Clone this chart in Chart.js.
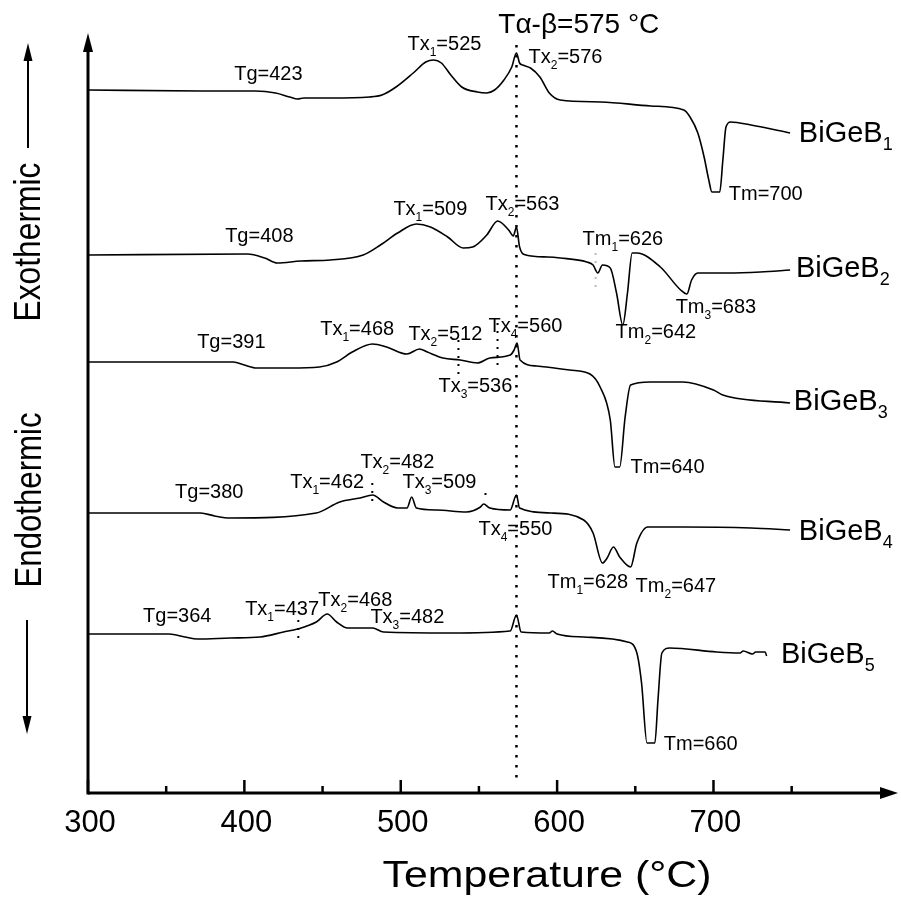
<!DOCTYPE html>
<html>
<head>
<meta charset="utf-8">
<title>DTA BiGeB</title>
<script src="https://cdn.jsdelivr.net/npm/chart.js@4.4.1/dist/chart.umd.min.js"></script>
<style>
  html, body { margin: 0; padding: 0; background: #fff; }
  canvas { display: block; }
</style>
</head>
<body>
<canvas id="dta" width="901" height="898"></canvas>
<script>
// DTA traces, temperature in °C and signal in a.u. (curves are stacked)
const b1T = [300, 372, 407, 420, 429, 434, 438, 455, 480, 488, 497, 508, 516, 521, 526, 532, 539, 549, 555, 560, 566, 571, 574, 576, 578, 583, 589, 595, 602, 628, 660, 681, 685, 690, 694, 697, 699, 704, 706, 708, 711, 724, 749];
const b1S = [70.3, 70.2, 70.2, 70.0, 69.6, 69.4, 69.5, 69.5, 69.6, 69.8, 70.6, 72.0, 73.1, 73.3, 73.0, 71.8, 70.6, 70.1, 70.0, 70.3, 71.3, 72.6, 74.0, 73.0, 72.8, 72.5, 71.6, 70.0, 69.3, 69.1, 68.7, 68.3, 67.6, 66.0, 63.6, 61.3, 60.1, 60.1, 63.3, 66.6, 67.1, 66.8, 66.0];

const b2T = [300, 402, 413, 421, 436, 455, 476, 487, 498, 510, 519, 530, 540, 546, 555, 562, 569, 572, 574, 576, 580, 594, 602, 619, 623, 626, 629, 634, 638, 642, 645, 648, 651, 666, 679, 683, 686, 690, 709, 730, 749];
const b2S = [53.8, 53.9, 53.5, 53.0, 53.2, 53.3, 53.8, 54.8, 56.0, 56.9, 56.6, 55.6, 54.5, 54.6, 55.8, 57.2, 56.3, 55.7, 56.6, 54.6, 53.8, 53.6, 53.5, 53.1, 52.8, 52.0, 52.8, 52.5, 50.0, 46.8, 50.0, 54.0, 54.0, 52.6, 50.3, 49.9, 51.3, 52.0, 52.0, 52.1, 52.3];

const b3T = [300, 393, 400, 408, 429, 448, 459, 469, 482, 491, 504, 512, 517, 527, 538, 549, 557, 570, 572.5, 574.4, 576.3, 587, 608, 621, 627.5, 634, 637, 640, 643.5, 647, 659.5, 680.5, 700, 706, 749];
const b3S = [43.1, 43.1, 42.8, 42.5, 42.5, 42.6, 43.1, 44.1, 44.9, 44.6, 43.9, 44.4, 44.1, 43.5, 43.3, 43.0, 43.5, 43.8, 44.3, 45.0, 43.3, 42.7, 42.3, 41.9, 40.6, 37.3, 32.6, 32.6, 37.6, 40.8, 41.1, 41.1, 40.3, 39.8, 39.0];

const b4T = [300, 372, 381, 391, 446, 461, 474, 482, 489, 498, 504, 507, 510, 523, 542, 551, 553, 557, 570, 574, 576, 596, 617, 623, 629, 632, 636, 640, 647, 651, 658, 681, 724, 749];
const b4S = [28.0, 28.0, 27.7, 27.5, 28.0, 29.1, 29.5, 29.8, 29.1, 28.5, 28.5, 29.6, 28.5, 28.3, 28.1, 28.6, 28.9, 28.5, 28.3, 29.8, 28.5, 28.0, 27.3, 26.0, 23.0, 23.5, 24.6, 23.6, 22.6, 25.0, 26.6, 26.6, 26.5, 26.3];

const b5T = [300, 352, 362, 370, 391, 410, 425, 434, 446, 453, 459, 466, 482, 489, 532, 570, 574, 577, 595, 597, 600, 617, 645, 651, 654, 657.5, 662.5, 664.5, 667, 672, 702, 717, 719, 725, 727, 733, 734];
const b5S = [15.9, 15.9, 15.6, 15.4, 15.5, 15.6, 16.1, 16.4, 17.1, 17.9, 17.1, 16.5, 16.5, 16.1, 16.0, 16.2, 17.8, 16.1, 16.0, 16.2, 15.9, 15.6, 15.1, 14.0, 11.0, 5.0, 5.0, 9.3, 14.0, 14.5, 14.1, 14.0, 14.2, 13.9, 14.1, 14.1, 13.7];

// alpha-beta quartz transition line
const tAlphaBeta = 574;
// short dotted markers: [T, from, to, colour]
const markers = [
    [624.6, 54.0, 50.3, '#bbb'],
    [536.9, 45.3, 41.5, '#000'],
    [561.9, 47.0, 42.5, '#000'],
    [481.8, 31.0, 28.8, '#000'],
    [554.2, 30.0, 29.3, '#000'],
    [434.5, 17.3, 15.1, '#000']
];

const xTicks = [300, 350, 400, 450, 500, 550, 600, 650, 700, 750];
const xLabels = [300, 400, 500, 600, 700];

// annotations: [text, subscript, rest, T, signal, size]
const notes = [
    ['Tα-β=575 °C', '', '', 562.4, 76.0, 28],
    ['Tg', '', '=423', 393.5, 71.3, 20],
    ['Tx', '1', '=525', 504.3, 74.3, 20],
    ['Tx', '2', '=576', 581.7, 73.0, 20],
    ['Tm', '', '=700', 709.8, 59.3, 20],
    ['BiGeB', '1', '', 754.6, 65.1, 29],
    ['Tg', '', '=408', 387.7, 55.1, 20],
    ['Tx', '1', '=509', 495.3, 57.8, 20],
    ['Tx', '2', '=563', 554.2, 58.3, 20],
    ['Tm', '1', '=626', 616.3, 54.8, 20],
    ['Tm', '2', '=642', 637.4, 45.5, 20],
    ['Tm', '3', '=683', 675.8, 48.0, 20],
    ['BiGeB', '2', '', 752.7, 51.6, 29],
    ['Tg', '', '=391', 369.8, 44.5, 20],
    ['Tx', '1', '=468', 448.5, 45.8, 20],
    ['Tx', '2', '=512', 504.9, 45.3, 20],
    ['Tx', '4', '=560', 556.1, 46.1, 20],
    ['Tx', '3', '=536', 524.1, 40.1, 20],
    ['Tm', '', '=640', 647.0, 32.0, 20],
    ['BiGeB', '3', '', 751.4, 38.3, 29],
    ['Tg', '', '=380', 355.7, 29.5, 20],
    ['Tx', '1', '=462', 429.3, 30.5, 20],
    ['Tx', '2', '=482', 474.2, 32.5, 20],
    ['Tx', '3', '=509', 501.1, 30.5, 20],
    ['Tx', '4', '=550', 549.7, 25.8, 20],
    ['Tm', '1', '=628', 593.9, 20.5, 20],
    ['Tm', '2', '=647', 650.2, 20.1, 20],
    ['BiGeB', '4', '', 754.6, 25.3, 29],
    ['Tg', '', '=364', 335.2, 17.1, 20],
    ['Tx', '1', '=437', 400.5, 17.8, 20],
    ['Tx', '2', '=468', 447.3, 18.7, 20],
    ['Tx', '3', '=482', 480.6, 17.0, 20],
    ['Tm', '', '=660', 668.2, 4.3, 20],
    ['BiGeB', '5', '', 743.1, 13.0, 29]
];

const FONT = '"Liberation Sans", Arial, Helvetica, sans-serif';

function pairs(ts, ss) {
    return ts.map((t, i) => ({ x: t, y: ss[i] }));
}

function curve(ts, ss) {
    return {
        data: pairs(ts, ss),
        borderColor: '#000',
        borderWidth: 1.6,
        pointRadius: 0,
        cubicInterpolationMode: 'monotone',
        fill: false
    };
}

let datasets = [
    curve(b1T, b1S), curve(b2T, b2S), curve(b3T, b3S), curve(b4T, b4S), curve(b5T, b5S),
    {
        data: [{ x: tAlphaBeta, y: 74.8 }, { x: tAlphaBeta, y: 0.8 }],
        borderColor: '#000', borderWidth: 2.5, borderDash: [2.5, 7.5], pointRadius: 0
    }
];
markers.forEach(m => {
    datasets.push({
        data: [{ x: m[0], y: m[1] }, { x: m[0], y: m[2] }],
        borderColor: m[3], borderWidth: 2, borderDash: [2, 6], pointRadius: 0
    });
});

function drawLabel(ctx, x, y, main, sub, rest, size) {
    ctx.font = size + 'px ' + FONT;
    ctx.fillText(main, x, y);
    let cx = x + ctx.measureText(main).width;
    if (sub) {
        ctx.font = Math.round(size * 0.62) + 'px ' + FONT;
        ctx.fillText(sub, cx, y + size * 0.28);
        cx += ctx.measureText(sub).width;
        ctx.font = size + 'px ' + FONT;
    }
    if (rest) ctx.fillText(rest, cx, y);
}

// text squeezed/stretched to a given length
function fitText(ctx, text, x, y, size, width, angle) {
    ctx.save();
    ctx.translate(x, y);
    ctx.rotate(angle || 0);
    ctx.font = size + 'px ' + FONT;
    const w = ctx.measureText(text).width;
    ctx.scale(width / w, 1);
    ctx.textAlign = 'center';
    ctx.textBaseline = 'alphabetic';
    ctx.fillText(text, 0, 0);
    ctx.restore();
}

function arrowHead(ctx, tipX, tipY, dx, dy, len, half) {
    ctx.beginPath();
    ctx.moveTo(tipX, tipY);
    ctx.lineTo(tipX - dx * len - dy * half, tipY - dy * len + dx * half);
    ctx.lineTo(tipX - dx * len + dy * half, tipY - dy * len - dx * half);
    ctx.closePath();
    ctx.fill();
}

const decorations = {
    id: 'decorations',
    afterDatasetsDraw(chart) {
        const { ctx, chartArea: a, scales: { x, y } } = chart;
        ctx.save();
        ctx.fillStyle = '#000';
        ctx.strokeStyle = '#000';

        // x axis with arrow
        ctx.lineWidth = 3;
        ctx.beginPath();
        ctx.moveTo(a.left, a.bottom);
        ctx.lineTo(a.right - 14, a.bottom);
        ctx.stroke();
        arrowHead(ctx, a.right, a.bottom, 1, 0, 18, 6);

        // y axis with arrow
        ctx.beginPath();
        ctx.moveTo(a.left, a.bottom + 1.5);
        ctx.lineTo(a.left, a.top + 14);
        ctx.stroke();
        arrowHead(ctx, a.left, a.top, 0, -1, 19, 5);

        // ticks pointing inwards
        ctx.lineWidth = 2.5;
        xTicks.forEach(t => {
            const px = x.getPixelForValue(t);
            const len = t % 100 === 0 ? 13 : 7;
            ctx.beginPath();
            ctx.moveTo(px, a.bottom);
            ctx.lineTo(px, a.bottom - len);
            ctx.stroke();
        });

        ctx.textAlign = 'center';
        ctx.textBaseline = 'alphabetic';
        ctx.font = '31px ' + FONT;
        xLabels.forEach(t => {
            ctx.fillText(String(t), x.getPixelForValue(t) + 2, a.bottom + 39);
        });
        fitText(ctx, 'Temperature (°C)', 547, 887, 36, 329, 0);

        // exo / endo
        fitText(ctx, 'Exothermic', 40, 242, 37, 159, -Math.PI / 2);
        fitText(ctx, 'Endothermic', 41, 500, 37, 175, -Math.PI / 2);
        ctx.lineWidth = 2;
        ctx.beginPath();
        ctx.moveTo(28, 148);
        ctx.lineTo(28, 58);
        ctx.stroke();
        arrowHead(ctx, 28, 43, 0, -1, 18, 4.5);
        ctx.beginPath();
        ctx.moveTo(27, 620);
        ctx.lineTo(27, 718);
        ctx.stroke();
        arrowHead(ctx, 27, 734, 0, 1, 18, 4.5);

        // annotations
        ctx.textAlign = 'left';
        notes.forEach(n => {
            drawLabel(ctx, x.getPixelForValue(n[3]), y.getPixelForValue(n[4]), n[0], n[1], n[2], n[5]);
        });
        ctx.restore();
    }
};

new Chart(document.getElementById('dta'), {
    type: 'line',
    data: { datasets: datasets },
    options: {
        responsive: false,
        animation: false,
        devicePixelRatio: 1,
        layout: { padding: { left: 88, right: 3, top: 33, bottom: 105 } },
        scales: {
            x: { type: 'linear', min: 300, max: 818, display: false },
            y: { type: 'linear', min: 0, max: 76, display: false }
        },
        plugins: {
            legend: { display: false },
            tooltip: { enabled: false }
        }
    },
    plugins: [decorations]
});
</script>
</body>
</html>
